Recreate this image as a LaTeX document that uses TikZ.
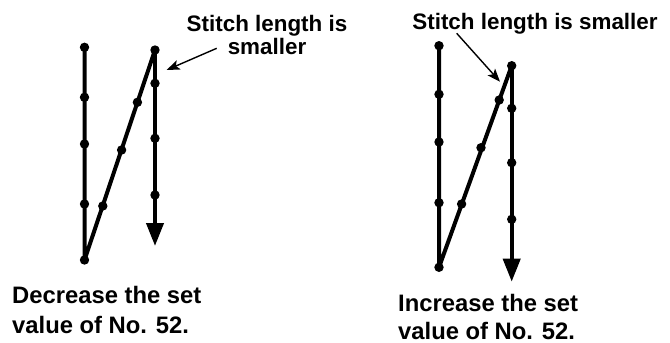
\documentclass[tikz,border=0pt]{standalone}
\usepackage{fontspec}
\setmainfont{Liberation Sans}
\usetikzlibrary{arrows.meta}
\begin{document}
\begin{tikzpicture}[x=1pt,y=-1pt,
  stitch/.style={line width=4pt,line join=round},
  stitchend/.style={stitch,-{Triangle[length=23pt,width=17pt]}},
  dot/.style={circle,fill=black,inner sep=0pt,minimum size=9.4pt},
  pointer/.style={line width=1.4pt,-{Stealth[length=13pt,width=10pt,inset=3pt]}},
  toplbl/.style={font=\bfseries\fontsize{22.4}{26}\selectfont,inner sep=0pt},
  botlbl/.style={font=\bfseries\fontsize{23.8}{28}\selectfont,inner sep=0pt,anchor=base west}]
\useasboundingbox (0,0) rectangle (670,343);
% ---------- left diagram ----------
\node[dot] (a1) at (84.5,47.3) {};
\node[dot] (a2) at (84.5,97.3) {};
\node[dot] (a3) at (84.5,144) {};
\node[dot] (a4) at (84.5,204) {};
\node[dot] (a5) at (84.5,260) {};
\node[dot] (b1) at (102.8,206) {};
\node[dot] (b2) at (121.6,150) {};
\node[dot] (b3) at (137.4,102.3) {};
\node[dot] (c1) at (155,50) {};
\node[dot] (c2) at (155,83.3) {};
\node[dot] (c3) at (155,138.3) {};
\node[dot] (c4) at (155,195) {};
\coordinate (cend) at (155,246);
\draw[stitch] (a1.center) -- (a5.center) -- (c1.center);
\draw[stitchend] (c1.center) -- (cend);
% ---------- right diagram ----------
\node[dot] (d1) at (439,45.7) {};
\node[dot] (d2) at (439,94.3) {};
\node[dot] (d3) at (439,142) {};
\node[dot] (d4) at (439,202.7) {};
\node[dot] (d5) at (439,267.3) {};
\node[dot] (e1) at (461.6,204) {};
\node[dot] (e2) at (481,147.7) {};
\node[dot] (e3) at (499.2,100) {};
\node[dot] (f1) at (511.7,65.7) {};
\node[dot] (f2) at (511.7,108.3) {};
\node[dot] (f3) at (511.7,162.7) {};
\node[dot] (f4) at (511.7,219.3) {};
\coordinate (fend) at (511.7,281.7);
\draw[stitch] (d1.center) -- (d5.center) -- (f1.center);
\draw[stitchend] (f1.center) -- (fend);
% ---------- labels ----------
\node[toplbl,anchor=base] (t1) at (267,31.7) {Stitch length is};
\node[toplbl,anchor=base] (t2) at (267,54.3) {smaller};
\coordinate (p1s) at (216.7,48.3);
\coordinate (p1e) at (166.7,70);
\draw[pointer] (p1s) -- (p1e);
\node[toplbl,anchor=base] (t3) at (535,29) {Stitch length is smaller};
\coordinate (p2s) at (456.7,33.3);
\coordinate (p2e) at (500,81.7);
\draw[pointer] (p2s) -- (p2e);
\node[botlbl] (u1) at (12,303.5) {Decrease the set};
\node[botlbl] (u2) at (12,333) {value of No. 52.};
\node[botlbl] (v1) at (398,311) {Increase the set};
\node[botlbl] (v2) at (398,339.5) {value of No. 52.};
\end{tikzpicture}
\end{document}
